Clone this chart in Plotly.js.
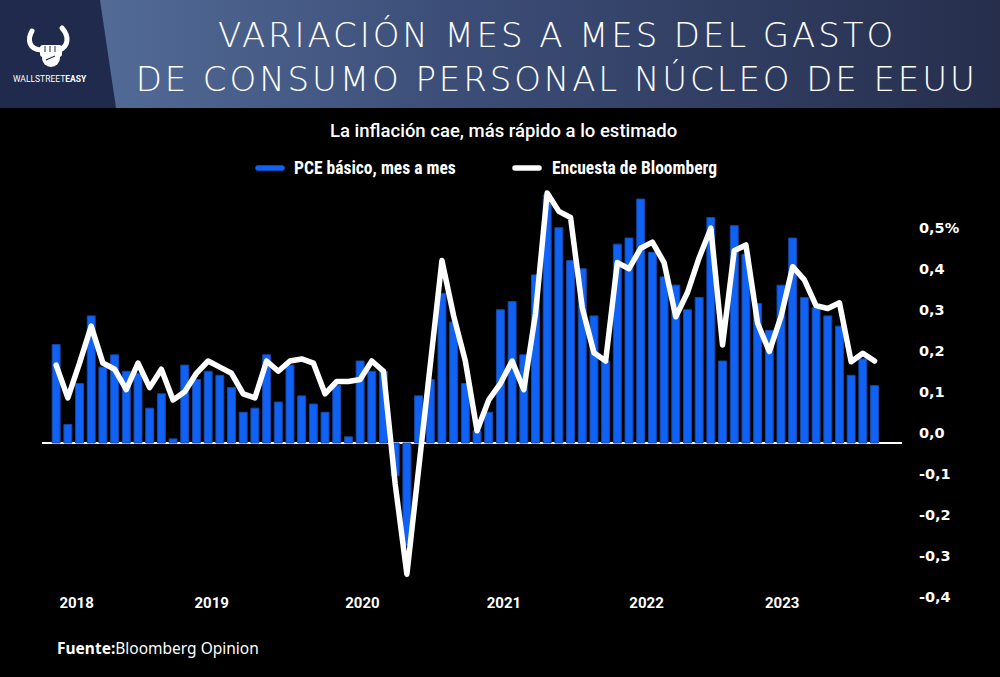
<!DOCTYPE html>
<html>
<head>
<meta charset="utf-8">
<script src="https://cdn.plot.ly/plotly-3.0.1.min.js"></script>
<style>
html,body{margin:0;padding:0;background:#000;}
#chart{width:1000px;height:677px;}
path.js-line{stroke-linejoin:round !important;stroke-linecap:round !important;}
.shapelayer path{stroke-linecap:round !important;}
</style>
</head>
<body>
<div id="chart"></div>
<script>
// ---- data ----
const months = [
  "2018-01","2018-02","2018-03","2018-04","2018-05","2018-06","2018-07","2018-08","2018-09","2018-10","2018-11","2018-12",
  "2019-01","2019-02","2019-03","2019-04","2019-05","2019-06","2019-07","2019-08","2019-09","2019-10","2019-11","2019-12",
  "2020-01","2020-02","2020-03","2020-04","2020-05","2020-06","2020-07","2020-08","2020-09","2020-10","2020-11","2020-12",
  "2021-01","2021-02","2021-03","2021-04","2021-05","2021-06","2021-07","2021-08","2021-09","2021-10","2021-11","2021-12",
  "2022-01","2022-02","2022-03","2022-04","2022-05","2022-06","2022-07","2022-08","2022-09","2022-10","2022-11","2022-12",
  "2023-01","2023-02","2023-03","2023-04","2023-05","2023-06","2023-07","2023-08","2023-09","2023-10","2023-11"
];
const pceCore = [
  0.24,0.045,0.145,0.31,0.185,0.215,0.175,0.17,0.085,0.12,0.01,0.19,
  0.155,0.175,0.165,0.135,0.075,0.085,0.215,0.10,0.19,0.115,0.095,0.075,
  0.14,0.015,0.20,0.175,0.175,-0.08,-0.25,0.115,0.155,0.365,0.295,0.145,
  0.03,0.075,0.325,0.345,0.215,0.41,0.605,0.525,0.445,0.425,0.31,0.20,
  0.485,0.50,0.595,0.465,0.405,0.385,0.325,0.355,0.55,0.20,0.53,0.46,
  0.34,0.275,0.385,0.50,0.355,0.33,0.31,0.285,0.165,0.205,0.14
];
const bloombergSurvey = [
  0.19,0.11,0.195,0.285,0.195,0.18,0.13,0.195,0.135,0.18,0.105,0.125,
  0.17,0.20,0.185,0.17,0.12,0.11,0.20,0.175,0.20,0.205,0.195,0.12,
  0.15,0.15,0.155,0.20,0.175,-0.10,-0.32,-0.065,0.19,0.445,0.31,0.20,
  0.03,0.105,0.145,0.20,0.13,0.315,0.61,0.565,0.55,0.33,0.22,0.20,
  0.44,0.425,0.475,0.49,0.44,0.308,0.367,0.452,0.524,0.239,0.469,0.483,
  0.292,0.223,0.308,0.43,0.398,0.335,0.328,0.342,0.198,0.219,0.20
];
const yearLabels = ["2018","2019","2020","2021","2022","2023"];
const yTickValues = [-0.4,-0.3,-0.2,-0.1,0,0.1,0.2,0.3,0.4,0.5];
const yTickLabels = ["-0,4","-0,3","-0,2","-0,1","0,0","0,1","0,2","0,3","0,4","0,5%"];
const seriesNames = ["PCE básico, mes a mes","Encuesta de Bloomberg"];

// ---- layout helpers (pixel -> paper) ----
const L = 42, R = 98, T = 180, B = 60, W = 1000, H = 677;
const PW = W - L - R, PH = H - T - B;
const px = v => (v - L) / PW;
const py = v => (H - B - v) / PH;

const headerSvg =
 "<svg xmlns='http://www.w3.org/2000/svg' width='1000' height='108' viewBox='0 0 1000 108' preserveAspectRatio='none'>" +
 "<defs><linearGradient id='g' x1='0' y1='0' x2='1' y2='0'>" +
 "<stop offset='0' stop-color='#58739f'/><stop offset='0.45' stop-color='#3c4e78'/><stop offset='1' stop-color='#262e4c'/></linearGradient></defs>" +
 "<rect width='1000' height='108' fill='url(#g)'/>" +
 "<polygon points='0,0 100,0 116,108 0,108' fill='#1f2a4c'/>" +
 "<path d='M32,31 C27,40 29,49 41,50' stroke='white' stroke-width='5' fill='none' stroke-linecap='round'/>" +
 "<path d='M62,28 C70,37 68,47 59,50' stroke='white' stroke-width='5' fill='none' stroke-linecap='round'/>" +
 "<rect x='40' y='45' width='22' height='12' rx='3' fill='white'/>" +
 "<circle cx='51' cy='58' r='9' fill='white'/>" +
 "<path d='M45,46 L45,52 M50,46 L50,52 M55,46 L55,52' stroke='#1f2a4c' stroke-width='1'/>" +
 "<path d='M46,60 L55,56' stroke='#1f2a4c' stroke-width='1.2'/>" +
 "</svg>";

const traces = [
  {
    type: 'bar',
    x: months,
    y: pceCore,
    name: seriesNames[0],
    marker: {color: '#0f62f3', line: {color: '#1a47a6', width: 1}},
    hoverinfo: 'skip',
    showlegend: false
  },
  {
    type: 'scatter',
    mode: 'lines',
    x: months,
    y: bloombergSurvey,
    name: seriesNames[1],
    line: {color: '#ffffff', width: 5.5},
    hoverinfo: 'skip',
    showlegend: false
  }
];

const whiteFont = (size, fam, weight) => ({size: size, color: '#ffffff', family: fam, weight: weight});

const layout = {
  width: W, height: H,
  paper_bgcolor: '#000000',
  plot_bgcolor: '#000000',
  margin: {l: L, r: R, t: T, b: B, pad: 0},
  bargap: 0.32,
  showlegend: false,
  xaxis: {
    type: 'category',
    categoryorder: 'array',
    categoryarray: months,
    range: [-1.21, 72.35],
    anchor: 'free',
    position: py(592),
    showgrid: false,
    zeroline: false,
    showline: false,
    ticks: '',
    tickmode: 'array',
    tickvals: [1.75, 13.3, 26.2, 38.3, 50.5, 62.1],
    ticktext: yearLabels,
    tickfont: whiteFont(15, 'Roboto', 700),
    fixedrange: true
  },
  yaxis: {
    side: 'right',
    range: [(443 - (H - B)) / 410, (443 - T) / 410],
    showgrid: false,
    zeroline: true,
    zerolinecolor: '#ffffff',
    zerolinewidth: 1.5,
    showline: false,
    ticks: '',
    tickmode: 'array',
    tickvals: yTickValues,
    ticktext: yTickLabels,
    ticklabelshift: -10,
    ticklabelstandoff: 16,
    tickfont: whiteFont(14.5, 'DejaVu Sans', 700),
    fixedrange: true
  },
  images: [{
    source: 'data:image/svg+xml;charset=utf-8,' + encodeURIComponent(headerSvg),
    xref: 'paper', yref: 'paper',
    x: px(0), y: py(0),
    sizex: W / PW, sizey: 108 / PH,
    xanchor: 'left', yanchor: 'top',
    sizing: 'stretch',
    layer: 'below'
  }],
  shapes: [
    {type: 'line', xref: 'paper', yref: 'paper', x0: px(258), x1: px(282), y0: py(168), y1: py(168),
     line: {color: '#0f62f3', width: 5.5}},
    {type: 'line', xref: 'paper', yref: 'paper', x0: px(515), x1: px(539), y0: py(168), y1: py(168),
     line: {color: '#ffffff', width: 5.5}}
  ],
  annotations: [
    {text: 'VARIACIÓN MES A MES DEL GASTO', xref: 'paper', yref: 'paper', x: px(557), y: py(35),
     xanchor: 'center', yanchor: 'middle', showarrow: false, font: whiteFont(34, 'DejaVu Sans', 200)},
    {text: 'DE CONSUMO PERSONAL NÚCLEO DE EEUU', xref: 'paper', yref: 'paper', x: px(556), y: py(79),
     xanchor: 'center', yanchor: 'middle', showarrow: false, font: whiteFont(34, 'DejaVu Sans', 200)},
    {text: 'WALLSTREET<b>EASY</b>', xref: 'paper', yref: 'paper', x: px(50), y: py(79),
     xanchor: 'center', yanchor: 'middle', showarrow: false, font: whiteFont(8.5, 'Roboto', 400)},
    {text: 'La inflación cae, más rápido a lo estimado', xref: 'paper', yref: 'paper', x: px(503), y: py(131),
     xanchor: 'center', yanchor: 'middle', showarrow: false, font: whiteFont(18.5, 'Roboto', 500)},
    {text: seriesNames[0], xref: 'paper', yref: 'paper', x: px(292), y: py(168),
     xanchor: 'left', yanchor: 'middle', showarrow: false,
     font: whiteFont(17.5, 'Liberation Sans Narrow, Roboto Condensed, Roboto', 700)},
    {text: seriesNames[1], xref: 'paper', yref: 'paper', x: px(550), y: py(168),
     xanchor: 'left', yanchor: 'middle', showarrow: false,
     font: whiteFont(17.5, 'Liberation Sans Narrow, Roboto Condensed, Roboto', 700)},
    {text: '<b>Fuente:</b>Bloomberg Opinion', xref: 'paper', yref: 'paper', x: px(55), y: py(648),
     xanchor: 'left', yanchor: 'middle', showarrow: false, font: whiteFont(15.5, 'Noto Sans', 400)}
  ]
};

Plotly.newPlot('chart', traces, layout, {displayModeBar: false, staticPlot: true}).then(function (gd) {
  // widen the letter spacing of the two header title lines (light, wide display face in the original)
  const texts = gd.querySelectorAll('.annotation-text');
  [0, 1].forEach(function (i) {
    if (texts[i]) texts[i].style.letterSpacing = '2.9px';
  });
});
</script>
</body>
</html>
